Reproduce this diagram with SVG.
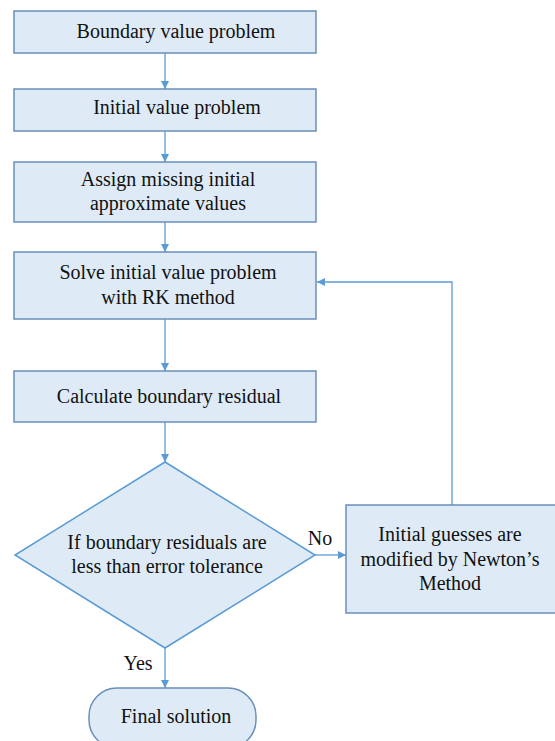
<svg xmlns="http://www.w3.org/2000/svg" width="555" height="741" viewBox="0 0 555 741">
<defs>
<marker id="ah" markerWidth="10" markerHeight="10" refX="8" refY="4" orient="auto" markerUnits="userSpaceOnUse">
<path d="M0,0 L8,4 L0,8 Z" fill="#5b9bd5"/>
</marker>
<style>
.box{fill:#deebf7;stroke:#6a8fba;stroke-width:1.5}
.dia{fill:#deebf7;stroke:#5b9bd5;stroke-width:1.5}
.t{font-family:"Liberation Serif","Times New Roman",serif;font-size:20px;fill:#111;text-anchor:middle}
.c{fill:none;stroke:#5b9bd5;stroke-width:1.3;marker-end:url(#ah)}
</style>
</defs>
<rect width="555" height="741" fill="#fff"/>
<g id="connectors">
<line class="c" x1="165" y1="53" x2="165" y2="89"/>
<line class="c" x1="165" y1="131" x2="165" y2="162"/>
<line class="c" x1="165" y1="222" x2="165" y2="252"/>
<line class="c" x1="165" y1="319" x2="165" y2="371"/>
<line class="c" x1="165" y1="422" x2="165" y2="462"/>
<line class="c" x1="165" y1="648" x2="165" y2="688"/>
<line class="c" x1="315" y1="555" x2="346" y2="555"/>
<polyline class="c" points="452,505 452,282 317,282"/>
<text class="t" x="320" y="545">No</text>
<text class="t" x="138" y="670">Yes</text>
</g>
<g id="n1"><rect class="box" x="14" y="11" width="302" height="42"/><text class="t" x="176" y="38">Boundary value problem</text></g>
<g id="n2"><rect class="box" x="14" y="89" width="302" height="42"/><text class="t" x="177" y="114">Initial value problem</text></g>
<g id="n3"><rect class="box" x="14" y="162" width="302" height="60"/><text class="t" x="168" y="186">Assign missing initial</text><text class="t" x="168" y="210">approximate values</text></g>
<g id="n4"><rect class="box" x="14" y="252" width="302" height="67"/><text class="t" x="168" y="279">Solve initial value problem</text><text class="t" x="168" y="304">with RK method</text></g>
<g id="n5"><rect class="box" x="14" y="371" width="302" height="51"/><text class="t" x="169" y="403">Calculate boundary residual</text></g>
<g id="n6"><polygon class="dia" points="165,462 315,555 165,648 15,555"/><text class="t" x="167" y="549">If boundary residuals are</text><text class="t" x="167" y="573">less than error tolerance</text></g>
<g id="n7"><rect class="box" x="346" y="505" width="214" height="108"/><text class="t" x="450" y="541">Initial guesses are</text><text class="t" x="450" y="566">modified by Newton’s</text><text class="t" x="450" y="590">Method</text></g>
<g id="n8"><rect class="box" x="89" y="688" width="167" height="60" rx="28"/><text class="t" x="176" y="723">Final solution</text></g>
</svg>
